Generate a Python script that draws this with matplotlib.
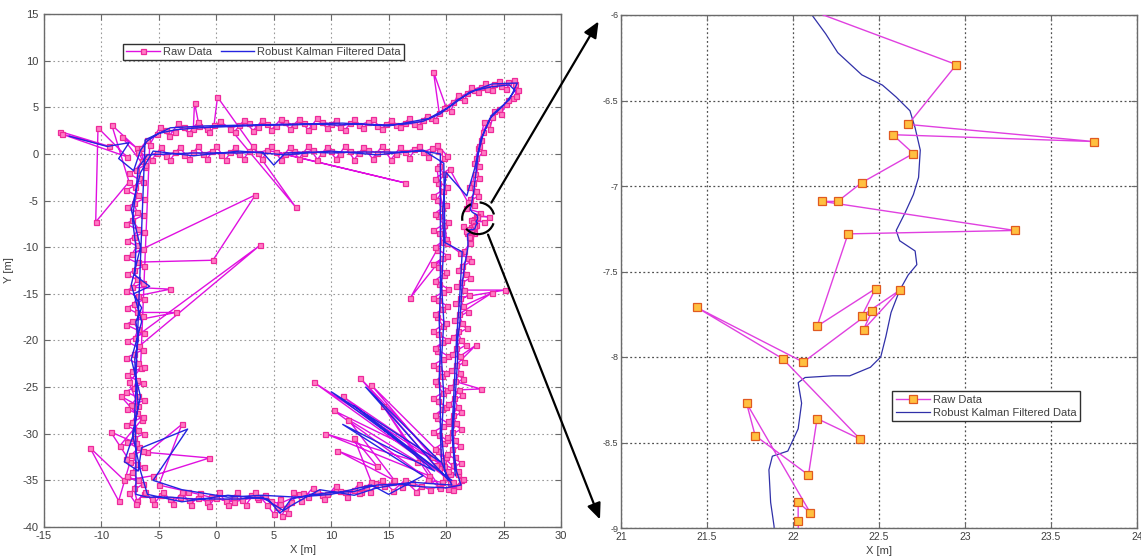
import numpy as np
import matplotlib
matplotlib.use('Agg')
import matplotlib.pyplot as plt
from matplotlib.patches import Ellipse, FancyArrowPatch
from matplotlib.ticker import MultipleLocator, FormatStrFormatter

plt.rcParams['font.family'] = ['Liberation Sans', 'DejaVu Sans']
plt.rcParams['axes.unicode_minus'] = False

# raw position fixes [m], in walking order, leg by leg
raw_corner = [(-13.6, 2.4), (-9.3, 0.8), (-13.4, 2.1), (-7.8, -0.3), (-10.3, 2.8), (-10.5, -7.3),
              (-7.6, -3.0), (-9.1, 3.1), (-6.9, 0.6), (-8.2, 1.8), (-6.2, -1.4)]
raw_top_outer = [(-6.6, 0.6), (-6.0, 1.5), (-5.2, 2.1), (-4.4, 2.6), (-3.6, 2.4), (-2.8, 2.9), (-2.0, 2.7),
                 (-1.9, 5.5), (-1.5, 3.0), (-0.8, 2.7), (-0.2, 3.1), (0.1, 6.1), (6.9, -5.7), (1.2, 2.7),
                 (2.0, 3.1), (2.8, 3.3), (3.6, 2.9), (4.4, 3.2), (5.2, 3.0), (6.0, 3.4), (6.8, 3.1), (7.6, 3.3),
                 (8.4, 3.0), (9.2, 3.4), (10.0, 3.2), (10.8, 2.9), (11.6, 3.3), (12.4, 3.1), (13.2, 3.4),
                 (14.0, 3.0), (14.8, 3.2), (15.6, 3.1), (16.4, 3.3), (17.2, 3.2), (18.0, 3.6), (18.7, 3.9),
                 (19.4, 4.4), (18.9, 8.8), (20.0, 5.0), (20.6, 5.6), (21.2, 6.1), (21.8, 6.5), (22.4, 6.9),
                 (23.0, 7.2), (23.6, 7.0), (24.2, 7.5), (24.8, 7.3), (25.4, 7.7), (26.0, 7.5), (26.3, 6.8),
                 (25.8, 6.0), (25.2, 5.4), (24.6, 4.8), (24.0, 4.0), (23.6, 3.2), (23.2, 2.4), (23.0, 1.5),
                 (22.8, 0.6), (22.6, -0.4), (22.9, -1.3), (22.5, -2.2), (22.3, -3.1), (22.6, -4.0),
                 (22.1, -4.8), (22.4, -5.5), (21.75, -5.84)]
raw_zoom = [(22.95, -6.29), (22.67, -6.64), (23.75, -6.74), (22.58, -6.70), (22.70, -6.81), (22.40, -6.98),
            (22.26, -7.09), (22.17, -7.09), (23.29, -7.26), (22.32, -7.28), (22.14, -7.82), (22.48, -7.60),
            (22.40, -7.76), (22.62, -7.61), (22.41, -7.84), (22.46, -7.73), (22.06, -8.03), (21.44, -7.71),
            (21.94, -8.01), (22.39, -8.48), (22.14, -8.36), (22.09, -8.69), (21.78, -8.46), (21.73, -8.27),
            (22.10, -8.91), (22.03, -8.85), (22.03, -8.96)]
raw_right_outer = [(22.05, -9.6), (21.6, -10.4), (21.9, -11.2), (21.4, -12.0), (21.7, -12.9), (21.3, -13.7),
                   (21.6, -14.6), (25.1, -14.6), (21.2, -15.4), (21.5, -16.3), (24.0, -14.9), (21.1, -17.2),
                   (21.4, -18.1), (21.0, -19.0), (21.3, -19.9), (20.9, -20.8), (21.2, -21.7), (22.6, -20.5),
                   (20.9, -22.6), (21.2, -23.5), (20.8, -24.4), (23.0, -25.2), (21.1, -25.3), (20.7, -26.2),
                   (21.0, -27.1), (20.6, -28.0), (20.9, -28.9), (20.5, -29.8), (20.8, -30.7), (20.5, -31.6),
                   (20.8, -32.5), (20.6, -33.4), (21.0, -34.3), (21.3, -35.0), (21.0, -35.6)]
raw_bottom = [(20.2, -35.9), (19.4, -35.6), (18.6, -36.0), (17.8, -35.6), (17.0, -35.3), (16.2, -35.7),
              (15.4, -35.2), (14.6, -35.6), (13.8, -35.3), (13.0, -35.7), (12.6, -36.2), (12.0, -36.0),
              (11.2, -36.3), (10.4, -36.0), (9.6, -36.5), (8.8, -36.2), (8.0, -36.8), (7.2, -36.5),
              (6.5, -37.3), (6.0, -38.0), (5.7, -38.8), (5.3, -37.9), (4.8, -37.2), (4.2, -36.6),
              (3.6, -37.0), (3.0, -36.6), (2.2, -37.1), (1.5, -36.8), (0.8, -37.2), (0.0, -36.9),
              (-0.8, -37.3), (-1.6, -36.9), (-2.4, -37.1), (-3.2, -36.8), (-4.0, -37.0), (-4.8, -36.6),
              (-5.6, -37.0), (-6.3, -36.5), (-6.9, -37.2)]
raw_left = [(-7.2, -35.8), (-6.8, -35.0), (-7.3, -34.1), (-6.9, -33.2), (-7.4, -32.3), (-6.7, -31.4),
            (-7.2, -30.5), (-6.8, -29.6), (-7.3, -28.7), (-6.9, -27.8), (-7.4, -26.9), (-6.8, -26.0),
            (-7.2, -25.1), (-6.9, -24.2), (-7.3, -23.3), (-6.8, -22.4), (-7.2, -21.5), (-6.7, -20.6),
            (3.8, -9.8), (-7.1, -19.7), (-6.8, -18.8), (-7.3, -17.9), (-3.5, -17.0), (-6.9, -17.0),
            (-7.2, -16.1), (-6.8, -15.2), (-4.0, -14.5), (-7.3, -14.3), (-6.9, -13.4), (-7.2, -12.5),
            (-6.8, -11.6), (-0.3, -11.4), (3.4, -4.4), (-7.3, -10.7), (-6.9, -9.8), (-7.2, -8.9),
            (-6.8, -8.0), (-7.3, -7.1), (-6.9, -6.2), (-7.2, -5.3), (-6.8, -4.4), (-7.1, -3.5),
            (-6.7, -2.6), (-7.0, -1.7), (-6.5, -0.8), (-6.0, -0.2)]
raw_top_inner = [(-5.2, 0.1), (-4.4, -0.2), (-3.6, 0.2), (-2.8, -0.1), (-2.0, 0.2), (-1.2, 0.0), (-0.4, 0.3),
                 (0.4, -0.1), (1.2, 0.2), (2.0, 0.0), (2.8, 0.3), (3.6, 0.1), (4.4, 0.4), (16.4, -3.1),
                 (5.2, 0.2), (6.0, 0.0), (6.8, 0.3), (7.6, 0.1), (8.4, 0.4), (9.2, 0.1), (10.0, 0.3),
                 (10.8, 0.0), (11.6, 0.3), (12.4, 0.1), (13.2, 0.4), (14.0, 0.1), (14.8, 0.3), (15.6, 0.0),
                 (16.4, 0.2), (17.2, 0.5), (18.0, 0.2), (18.8, 0.6), (19.4, 0.3), (19.8, -0.4)]
raw_right_inner = [(19.4, -1.3), (19.8, -2.2), (19.3, -3.1), (19.7, -4.0), (19.2, -4.9), (19.6, -5.8),
                   (19.3, -6.7), (19.8, -7.6), (19.4, -8.5), (19.7, -9.4), (19.2, -10.3), (16.9, -15.4),
                   (19.6, -11.2), (19.3, -12.1), (19.8, -13.0), (19.4, -13.9), (19.7, -14.8), (19.3, -15.7),
                   (19.6, -16.6), (19.2, -17.5), (19.7, -18.4), (19.3, -19.3), (19.6, -20.2), (19.2, -21.1),
                   (19.7, -22.0), (19.3, -22.9), (19.6, -23.8), (19.2, -24.7), (19.7, -25.6), (19.3, -26.5),
                   (19.6, -27.4), (19.2, -28.3), (19.7, -29.2), (19.4, -30.1), (19.8, -31.0), (19.3, -31.9),
                   (19.7, -32.8), (19.4, -33.7), (19.9, -34.6), (20.3, -35.3)]
raw_cross = [(12.5, -24.0), (19.8, -33.5), (8.5, -24.5), (20.6, -35.2), (11.0, -26.0), (18.8, -32.5),
             (13.5, -24.8), (21.0, -34.0), (10.2, -27.5), (19.5, -35.8), (14.5, -27.0), (18.5, -34.5),
             (9.5, -30.0), (17.5, -33.0), (11.5, -28.5), (15.5, -35.0), (10.5, -31.8), (14.0, -33.5),
             (12.0, -30.5), (13.5, -35.2), (12.4, -36.4), (10.8, -36.1), (9.2, -36.6)]
raw_bottom_left = [(7.5, -36.4), (5.5, -37.5), (3.5, -36.8), (1.5, -37.3), (-0.5, -36.8), (-2.5, -36.2),
                   (-5.0, -35.5), (-3.0, -29.0), (-6.0, -32.0), (-0.6, -32.6), (-5.5, -34.5), (-8.0, -35.0),
                   (-11.0, -31.5), (-8.5, -37.2), (-7.5, -33.0), (-9.2, -29.8), (-7.0, -31.0), (-8.4, -31.3),
                   (-6.5, -28.5), (-8.3, -26.0), (-6.8, -27.0), (-7.6, -24.5), (-6.6, -23.0)]

# second lap
raw_lap2_top = [(-5.8, 1.0), (-4.9, 2.9), (-4.1, 1.9), (-3.3, 3.3), (-2.4, 2.2), (-1.6, 3.4), (-0.6, 2.3),
                (0.3, 3.5), (1.6, 2.4), (2.4, 3.6), (3.2, 2.5), (4.0, 3.6), (4.8, 2.6), (5.6, 3.7), (6.4, 2.7),
                (7.2, 3.7), (8.0, 2.6), (8.8, 3.8), (9.6, 2.8), (10.4, 3.6), (11.2, 2.6), (12.0, 3.7),
                (12.8, 2.8), (13.6, 3.7), (14.4, 2.7), (15.2, 3.6), (16.0, 2.9), (16.8, 3.8), (17.6, 3.0),
                (18.3, 4.1), (19.0, 3.6), (19.8, 4.9), (20.4, 4.6), (21.0, 6.3), (21.6, 5.8), (22.2, 7.2),
                (22.8, 6.6), (23.4, 7.6), (24.0, 6.9), (24.6, 7.8), (25.2, 7.0), (25.9, 7.9), (26.1, 6.2),
                (25.4, 5.8), (24.8, 4.3), (24.2, 4.6), (23.8, 2.7), (23.3, 3.4), (22.9, 0.9), (23.2, 0.2),
                (22.4, -1.0), (22.9, -2.6), (22.0, -3.6), (22.8, -4.5), (21.9, -5.2), (20.3, -1.6)]
raw_lap2_inner_right = [(19.0, -2.7), (20.1, -3.6), (18.9, -4.5), (20.0, -5.5), (19.0, -6.4), (20.2, -7.3),
                        (18.9, -8.2), (20.0, -9.1), (19.0, -10.0), (20.1, -10.9), (18.9, -11.8), (20.0, -12.7),
                        (19.0, -13.6), (20.2, -14.5), (18.9, -15.4), (20.1, -16.3), (19.0, -17.2),
                        (20.0, -18.1), (18.9, -19.0), (20.1, -19.9), (19.0, -20.8), (20.2, -21.7),
                        (18.9, -22.6), (20.0, -23.5), (19.0, -24.4), (20.1, -25.3), (18.9, -26.2),
                        (20.0, -27.1), (19.0, -28.0), (20.2, -28.9), (18.9, -29.8), (20.1, -30.7),
                        (19.0, -31.6), (20.0, -32.5), (19.1, -33.4), (20.3, -34.3), (19.6, -35.2)]
raw_lap2_bottom = [(18.4, -35.0), (17.4, -36.2), (16.4, -35.0), (15.4, -36.1), (14.4, -35.0), (13.4, -36.2),
                   (12.4, -35.4), (11.4, -36.8), (10.4, -35.6), (9.4, -37.0), (8.4, -35.8), (7.4, -37.2),
                   (6.7, -36.2), (6.2, -38.5), (5.5, -37.0), (5.0, -38.6), (4.4, -37.6), (3.4, -36.2),
                   (2.6, -37.6), (1.8, -36.3), (1.0, -37.6), (0.2, -36.3), (-0.6, -37.7), (-1.4, -36.4),
                   (-2.2, -37.6), (-3.0, -36.3), (-3.8, -37.5), (-4.6, -36.2), (-5.4, -37.5), (-6.2, -36.2),
                   (-7.0, -37.5), (-7.6, -36.4)]
raw_lap2_left = [(-6.4, -35.4), (-7.8, -34.5), (-6.3, -33.6), (-7.9, -32.7), (-6.4, -31.8), (-7.8, -30.9),
                 (-6.3, -30.0), (-7.9, -29.1), (-6.4, -28.2), (-7.8, -27.3), (-6.3, -26.4), (-7.9, -25.5),
                 (-6.4, -24.6), (-7.8, -23.7), (-6.3, -22.8), (-7.9, -21.9), (-6.4, -21.0), (-7.8, -20.1),
                 (-6.3, -19.2), (-7.9, -18.3), (-6.4, -17.4), (-7.8, -16.5), (-6.3, -15.6), (-7.9, -14.7),
                 (-6.4, -13.8), (-7.8, -12.9), (-6.3, -12.0), (-7.9, -11.1), (-6.4, -10.2), (-7.8, -9.3),
                 (-6.3, -8.4), (-7.9, -7.5), (-6.4, -6.6), (-7.8, -5.7), (-6.3, -4.8), (-7.9, -3.9),
                 (-6.4, -3.0), (-7.6, -2.1), (-6.2, -1.2), (-6.8, 0.2)]
raw_lap2_top_inner = [(-5.6, -0.6), (-4.8, 0.7), (-4.0, -0.6), (-3.2, 0.7), (-2.4, -0.5), (-1.6, 0.8),
                      (-0.8, -0.5), (0.0, 0.8), (0.8, -0.6), (1.6, 0.7), (2.4, -0.5), (3.2, 0.8), (4.0, -0.5),
                      (4.8, 0.8), (5.6, -0.6), (6.4, 0.7), (7.2, -0.5), (8.0, 0.8), (8.8, -0.6), (9.6, 0.7),
                      (10.4, -0.5), (11.2, 0.8), (12.0, -0.6), (12.8, 0.7), (13.6, -0.5), (14.4, 0.8),
                      (15.2, -0.6), (16.0, 0.7), (16.8, -0.4), (17.6, 0.9), (18.4, -0.3), (19.2, 1.0),
                      (20.1, -0.2), (19.2, -1.5), (20.1, -9.6)]
raw_lap2_right_outer = [(21.2, -10.6), (22.2, -11.5), (21.0, -12.4), (22.1, -13.3), (20.9, -14.2), (22.0, -15.1),
                        (20.8, -16.0), (21.9, -16.9), (20.7, -17.8), (21.8, -18.7), (20.6, -19.6), (21.7, -20.5),
                        (20.5, -21.4), (21.6, -22.3), (20.4, -23.2), (21.5, -24.1), (20.3, -25.0), (21.4, -25.9),
                        (20.2, -26.8), (21.3, -27.7), (20.2, -28.6), (21.3, -29.5), (20.1, -30.4), (21.2, -31.3),
                        (20.1, -32.2), (21.3, -33.1), (20.2, -34.0), (21.5, -34.9), (20.6, -36.0)]

# robust Kalman filter output, same walk
filt_corner = [(-12.8, 1.9), (-9.5, 0.8), (-7.6, 1.2), (-8.5, -0.5), (-7.2, -1.8), (-6.6, 0.4)]
filt_top_outer = [(-6.0, 1.4), (-5.0, 2.2), (-3.5, 2.6), (-1.5, 2.8), (0.5, 2.9), (2.5, 3.0), (4.5, 3.1),
                  (6.5, 3.1), (8.5, 3.2), (10.5, 3.1), (12.5, 3.2), (14.5, 3.1), (16.5, 3.2), (18.0, 3.5),
                  (19.5, 4.3), (21.0, 5.8), (22.5, 6.8), (24.0, 7.2), (25.5, 7.4), (26.0, 6.8), (25.0, 5.2),
                  (23.8, 3.8), (23.2, 2.0), (22.8, 0.0), (22.6, -2.0), (22.4, -4.0), (22.2, -5.5)]
filt_zoom = [(22.11, -6.00), (22.19, -6.11), (22.26, -6.22), (22.40, -6.35), (22.52, -6.41), (22.60, -6.48),
             (22.68, -6.56), (22.71, -6.66), (22.74, -6.79), (22.73, -6.95), (22.70, -7.05), (22.65, -7.16),
             (22.60, -7.26), (22.62, -7.32), (22.71, -7.38), (22.72, -7.46), (22.67, -7.52), (22.62, -7.61),
             (22.57, -7.74), (22.54, -7.88), (22.51, -8.00), (22.45, -8.06), (22.33, -8.11), (22.23, -8.11),
             (22.07, -8.12), (22.03, -8.15), (22.05, -8.27), (22.03, -8.42), (21.97, -8.55), (21.88, -8.58),
             (21.86, -8.66), (21.87, -8.85), (21.89, -8.99)]
filt_right_outer = [(21.9, -10.0), (21.6, -12.0), (21.4, -14.0), (21.3, -16.0), (21.2, -18.0), (21.0, -20.0),
                    (21.0, -22.0), (20.9, -24.0), (20.8, -26.0), (20.7, -28.0), (20.6, -30.0), (20.7, -32.0),
                    (20.9, -34.0), (21.3, -35.5)]
filt_bottom = [(20.0, -35.8), (18.0, -35.7), (16.0, -35.4), (14.0, -35.5), (13.0, -35.8), (12.0, -36.2),
               (10.0, -36.3), (8.0, -36.6), (6.5, -37.0), (5.8, -38.2), (5.0, -37.6), (4.0, -36.8),
               (2.0, -37.0), (0.0, -37.0), (-2.0, -37.0), (-4.0, -36.8), (-6.0, -36.8), (-7.0, -36.5)]
filt_left = [(-7.0, -34.0), (-7.0, -31.0), (-7.1, -28.0), (-7.0, -25.0), (-7.1, -22.0), (-6.8, -20.0),
             (-7.0, -18.0), (-6.5, -16.5), (-7.2, -15.0), (-5.8, -14.2), (-7.1, -13.0), (-7.0, -10.0),
             (-7.3, -7.0), (-7.0, -4.0), (-6.8, -1.5), (-6.0, -0.1)]
filt_top_inner = [(-4.0, 0.0), (-2.0, 0.1), (0.0, 0.1), (2.0, 0.1), (4.0, 0.2), (5.0, -1.2), (6.0, 0.1),
                  (8.0, 0.2), (10.0, 0.1), (12.0, 0.2), (14.0, 0.2), (16.0, 0.2), (18.0, 0.3), (19.5, 0.0)]
filt_right_inner = [(19.5, -3.0), (19.5, -6.0), (19.5, -9.0), (19.5, -12.0), (19.5, -15.0), (19.4, -18.0),
                    (19.5, -21.0), (19.4, -24.0), (19.5, -27.0), (19.5, -30.0), (19.6, -33.0), (20.2, -35.0)]
filt_cross = [(13.0, -25.0), (19.5, -33.0), (10.0, -25.5), (20.5, -35.0), (12.0, -27.0), (19.0, -34.0),
              (11.0, -29.0), (18.0, -34.5), (15.0, -36.5), (13.5, -35.5), (10.0, -36.5), (7.0, -36.8),
              (4.0, -36.6)]
filt_bottom_left = [(1.0, -36.8), (-3.0, -36.0), (-5.5, -35.0), (-2.5, -29.5), (-6.5, -31.5), (-6.8, -34.0),
                    (-8.0, -33.0), (-7.2, -30.0), (-6.8, -27.0), (-7.0, -24.0)]
filt_lap2 = [(-6.2, 1.5), (-4.0, 2.8), (-1.0, 3.0), (3.0, 3.1), (7.0, 3.2), (11.0, 3.3), (15.0, 3.0),
             (18.5, 3.8), (20.5, 5.2), (22.0, 6.6), (24.0, 7.5), (26.2, 7.6), (25.5, 5.8), (24.0, 4.2),
             (23.0, 1.5), (22.5, -1.5), (21.8, -4.5), (20.0, -2.0), (19.7, -6.0), (19.8, -10.0),
             (19.6, -14.0), (19.8, -18.0), (19.6, -22.0), (19.8, -26.0), (19.6, -30.0), (19.9, -34.0),
             (20.5, -35.5), (17.0, -35.2), (14.0, -35.8), (12.0, -36.6), (9.0, -36.0), (6.8, -37.5),
             (5.5, -38.5), (4.5, -37.0), (1.0, -36.6), (-3.0, -37.3), (-6.0, -36.5), (-6.6, -34.0),
             (-7.3, -30.0), (-6.6, -26.0), (-7.4, -22.0), (-6.5, -18.0), (-7.4, -14.0), (-6.6, -10.0),
             (-7.4, -6.0), (-6.6, -2.0), (-5.5, 0.3), (-2.0, -0.2), (2.0, 0.3), (6.0, -0.1), (10.0, 0.3),
             (14.0, -0.1), (18.0, 0.4), (19.8, -1.0), (19.9, -9.5), (21.4, -10.5), (21.2, -15.0),
             (20.9, -20.0), (20.7, -25.0), (20.5, -30.0), (20.8, -34.5)]

raw = np.array(raw_corner + raw_top_outer + raw_zoom + raw_right_outer + raw_bottom + raw_left
               + raw_top_inner + raw_right_inner + raw_cross + raw_bottom_left
               + raw_lap2_top + raw_lap2_inner_right + raw_lap2_bottom + raw_lap2_left
               + raw_lap2_top_inner + raw_lap2_right_outer)
filt = np.array(filt_corner + filt_top_outer + filt_zoom + filt_right_outer + filt_bottom + filt_left
                + filt_top_inner + filt_right_inner + filt_cross + filt_bottom_left + filt_lap2)

W, H = 1141, 557
fig = plt.figure(figsize=(W / 100, H / 100), dpi=100)
ax1 = fig.add_axes([44 / W, 1 - 527 / H, 517 / W, 513 / H])
ax2 = fig.add_axes([621 / W, 1 - 528 / H, 516 / W, 513 / H])

frame = '#6a6a6a'
txt = '#404040'

# full trajectory
ax1.plot(raw[:, 0], raw[:, 1], '-s', color='#E010E0', lw=1.0, ms=3.6,
         mfc='#FF7CC4', mec='#EE2A9A', mew=0.9, label='Raw Data', zorder=2)
ax1.plot(filt[:, 0], filt[:, 1], '-', color='#2424E0', lw=1.0,
         label='Robust Kalman Filtered Data', zorder=3)
ax1.set_xlim(-15, 30)
ax1.set_ylim(-40, 15)
ax1.xaxis.set_major_locator(MultipleLocator(5))
ax1.yaxis.set_major_locator(MultipleLocator(5))
ax1.grid(True, color='#9a9a9a', ls=(0, (1.5, 2.5)), lw=0.8)
ax1.set_xlabel('X [m]', fontsize=8, color=txt)
ax1.set_ylabel('Y [m]', fontsize=8, color=txt)
ax1.xaxis.set_label_coords(0.5, -0.035)
ax1.yaxis.set_label_coords(-0.058, 0.5)
ax1.legend(loc='upper left', bbox_to_anchor=(0.143, 0.952), ncol=2, fontsize=8,
           handlelength=3.0, borderpad=0.25, columnspacing=0.8, handletextpad=0.3,
           fancybox=False, framealpha=1, edgecolor='#303030', labelcolor=txt)

# close-up of the circled stretch
ax2.plot(raw[:, 0], raw[:, 1], '-s', color='#E040E0', lw=1.0, ms=5.5,
         mfc='#FFC040', mec='#E05A20', mew=0.9, label='Raw Data', zorder=3)
ax2.plot(filt[:, 0], filt[:, 1], '-', color='#3030A8', lw=0.9,
         label='Robust Kalman Filtered Data', zorder=2)
ax2.set_xlim(21, 24)
ax2.set_ylim(-9, -6)
ax2.xaxis.set_major_locator(MultipleLocator(0.5))
ax2.yaxis.set_major_locator(MultipleLocator(0.5))
ax2.grid(True, color='#505050', ls=(0, (1.5, 2.0)), lw=0.9)
ax2.set_xlabel('X [m]', fontsize=8, color=txt)
ax2.xaxis.set_label_coords(0.5, -0.035)
ax2.legend(loc='upper left', bbox_to_anchor=(0.515, 0.277), fontsize=8,
           handlelength=3.0, borderpad=0.35, handletextpad=0.3, labelspacing=0.2,
           fancybox=False, framealpha=1, edgecolor='#303030', labelcolor=txt)

for ax, fs in ((ax1, 8), (ax2, 7.5)):
    ax.xaxis.set_major_formatter(FormatStrFormatter('%g'))
    ax.yaxis.set_major_formatter(FormatStrFormatter('%g'))
    ax.tick_params(direction='in', length=4, width=0.8, colors=frame, labelcolor=txt,
                   labelsize=fs, top=True, right=True, pad=3)
    for s in ax.spines.values():
        s.set_color(frame)
        s.set_linewidth(1.0)
ax1.tick_params(axis='y', pad=4)
ax2.tick_params(axis='y', labelsize=6.5, pad=2)

# dashed circle marking the zoomed stretch
ax1.add_patch(Ellipse((22.8, -6.9), 2.8, 3.4, fill=False, ec='black', lw=1.6,
                      ls=(0, (9, 4)), zorder=5))


def fpt(x, y):
    return (x / W, 1 - y / H)


for tail, head in (((490, 205), (600, 19)), ((487, 232), (601, 522))):
    fig.add_artist(FancyArrowPatch(fpt(*tail), fpt(*head), transform=fig.transFigure,
                                   arrowstyle='-|>,head_length=6,head_width=2.6',
                                   color='black', lw=1.6, mutation_scale=1.6))

fig.savefig('out.png', dpi=100)
